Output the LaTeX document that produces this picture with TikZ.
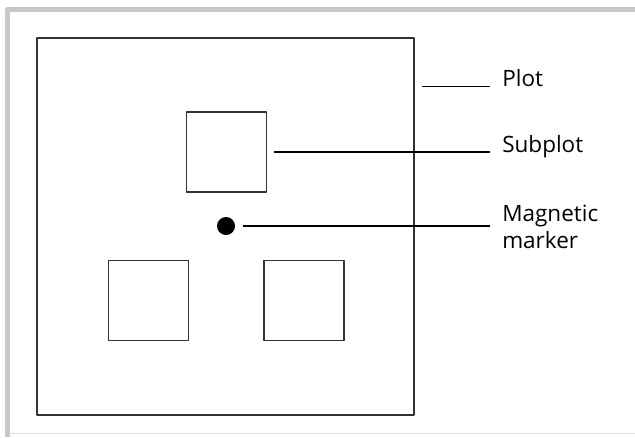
\documentclass[tikz,border=0pt]{standalone}
\usepackage{fontspec}
\setmainfont{Open Sans}
\begin{document}
\begin{tikzpicture}[x=0.025cm,y=-0.025cm,line join=round,font=\fontsize{16}{18.5}\selectfont]
	\tikzset{box/.style={draw=black!80,line width=1pt,inner sep=0pt,minimum size=2cm},
		lbl/.style={anchor=base west,inner xsep=0.3cm,inner ysep=0pt,align=left},
		lead/.style={line width=1.4pt}}
	\useasboundingbox (0,0) rectangle (635,437);
	%Khung xám
	\draw[black!22,line width=3.5pt] (7.5,437)--(7.5,9.2)--(635,9.2);
	\draw[black!12,line width=0.7pt] (9,433.5)--(635,433.5);
	%Ô lớn và ô con
	\node[box,minimum size=9.425cm] (plot) at (225.5,226.5) {};
	\foreach \t/\x/\y in {sub/226.5/152,subl/148.3/300.5,subr/304/300.5}{
		\node[box] (\t) at (\x,\y) {};}
	\node[circle,fill=black,inner sep=0pt,minimum size=0.45cm] (dot) at (226,226) {};
	%Chú thích
	\node[lbl] (tplot) at (490,86.5) {Plot};
	\node[lbl] (tsub) at (490,152) {Subplot};
	\node[lbl] (tmag) at (490,248) {Magnetic\\marker};
	\coordinate (pl) at (422,86.5);
	\draw[lead] (pl)--(tplot.base west);
	\draw[lead,shorten <=0.175cm] (sub.east)--(tsub.base west);
	\draw[lead,shorten <=0.2cm] (dot.east)--(dot.east-|tmag.west);
\end{tikzpicture}
\end{document}
